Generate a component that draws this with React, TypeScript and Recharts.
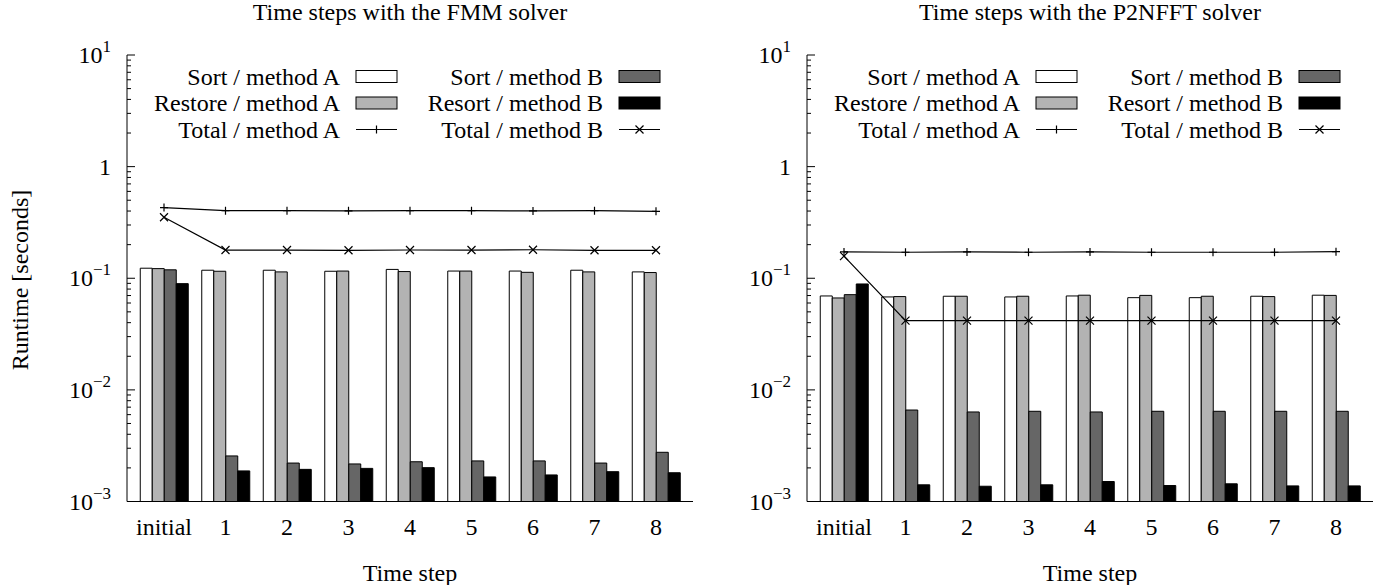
import React from 'react'
import { ComposedChart, Bar, Line, XAxis, YAxis } from 'recharts'

const steps = ['initial', '1', '2', '3', '4', '5', '6', '7', '8']

// FMM solver
const fmmSortA = [0.123, 0.118, 0.118, 0.1155, 0.12, 0.116, 0.116, 0.118, 0.114]
const fmmRestoreA = [0.122, 0.1155, 0.114, 0.116, 0.1148, 0.116, 0.113, 0.114, 0.1125]
const fmmSortB = [0.119, 0.00256, 0.00221, 0.00217, 0.00227, 0.00231, 0.00231, 0.00221, 0.00276]
const fmmResortB = [0.0895, 0.00188, 0.00194, 0.00198, 0.00201, 0.00166, 0.00173, 0.00185, 0.00181]
const fmmTotalA = [0.43, 0.403, 0.403, 0.402, 0.403, 0.403, 0.401, 0.403, 0.398]
const fmmTotalB = [0.352, 0.179, 0.179, 0.178, 0.179, 0.179, 0.18, 0.178, 0.178]

// P2NFFT solver
const nfftSortA = [0.0694, 0.068, 0.069, 0.068, 0.0694, 0.067, 0.067, 0.069, 0.0705]
const nfftRestoreA = [0.0666, 0.0685, 0.069, 0.069, 0.0705, 0.0702, 0.069, 0.0685, 0.0702]
const nfftSortB = [0.0713, 0.0066, 0.00634, 0.00643, 0.00634, 0.00643, 0.00643, 0.00643, 0.00643]
const nfftResortB = [0.0889, 0.00141, 0.00137, 0.00141, 0.00151, 0.00139, 0.00144, 0.00138, 0.00138]
const nfftTotalA = [0.172, 0.171, 0.172, 0.171, 0.172, 0.171, 0.171, 0.171, 0.173]
const nfftTotalB = [0.158, 0.0417, 0.0417, 0.0417, 0.0417, 0.0417, 0.0417, 0.0417, 0.0417]

// log axis ticks
const majorTicks = [0.001, 0.01, 0.1, 1, 10]
const majorExp = ['\u22123', '\u22122', '\u22121', '', '1']
const minorFactors = [2, 3, 4, 5, 6, 7, 8, 9]
const yTicks = majorTicks.flatMap((m, i) =>
  i < majorTicks.length - 1 ? [m, ...minorFactors.map(k => m * k)] : [m])

const FONT = '"Liberation Serif", "DejaVu Serif", serif'
const FS = 24
const PLOT_TOP = 55
const PLOT_H = 446.5
const PLOT_W = 566
const LIGHT = '#b3b3b3'
const DARK = '#666666'
const TXT = { fontFamily: FONT, fontSize: FS }

const legendItems = [
  { label: 'Sort / method A', kind: 'box', fill: '#fff', col: 0, row: 0 },
  { label: 'Restore / method A', kind: 'box', fill: LIGHT, col: 0, row: 1 },
  { label: 'Total / method A', kind: 'plus', fill: '', col: 0, row: 2 },
  { label: 'Sort / method B', kind: 'box', fill: DARK, col: 1, row: 0 },
  { label: 'Resort / method B', kind: 'box', fill: '#000', col: 1, row: 1 },
  { label: 'Total / method B', kind: 'cross', fill: '', col: 1, row: 2 },
]

const plusPath = (cx: number, cy: number, r = 4) => `M${cx - r},${cy}H${cx + r}M${cx},${cy - r}V${cy + r}`
const crossPath = (cx: number, cy: number, r = 4) =>
  `M${cx - r},${cy - r}L${cx + r},${cy + r}M${cx - r},${cy + r}L${cx + r},${cy - r}`

const PlusDot = (p: any) => <path key={p.index} d={plusPath(p.cx, p.cy)} stroke="#000" strokeWidth={1.2} fill="none" />
const CrossDot = (p: any) => <path key={p.index} d={crossPath(p.cx, p.cy)} stroke="#000" strokeWidth={1.2} fill="none" />

function LeftTick(p: any) {
  const { x, y, payload } = p
  const idx = majorTicks.indexOf(payload.value)
  const len = idx >= 0 ? 8 : 4
  return (
    <g>
      <line x1={x} x2={x + len} y1={y} y2={y} stroke="#000" />
      {idx >= 0 && (
        <text x={x - 16} y={y + 8} textAnchor="end" style={TXT} fill="#000">
          {majorExp[idx] ? (
            <>
              <tspan>10</tspan>
              <tspan dy={-11} style={{ fontSize: 17 }}>{majorExp[idx]}</tspan>
            </>
          ) : '1'}
        </text>
      )}
    </g>
  )
}

function RightTick(p: any) {
  const { x, y, payload } = p
  const len = majorTicks.indexOf(payload.value) >= 0 ? 8 : 4
  return <line x1={x} x2={x - len} y1={y} y2={y} stroke="#000" />
}

function BottomTick(p: any) {
  const { x, y, payload } = p
  return (
    <text x={x} y={y + 33} textAnchor="middle" style={TXT} fill="#000">
      {payload.value}
    </text>
  )
}

function TopTick(p: any) {
  const { x, y } = p
  return <line x1={x} x2={x} y1={y} y2={y + 8} stroke="#000" />
}

interface PanelProps {
  title: string
  left: number
  axisWidth: number
  rightMargin: number
  sortA: number[]
  restoreA: number[]
  sortB: number[]
  resortB: number[]
  totalA: number[]
  totalB: number[]
}

function Legend({ plotLeft }: { plotLeft: number }) {
  const colText = [213, 476]
  const rowY = [76.5, 103, 129.5]
  return (
    <svg width={1384} height={585} style={{ position: 'absolute', left: 0, top: 0, pointerEvents: 'none' }}>
      {legendItems.map(it => {
        const tx = plotLeft + colText[it.col]
        const cy = rowY[it.row]
        const sx = tx + 16
        return (
          <g key={it.label}>
            <text x={tx} y={cy + 8} textAnchor="end" style={TXT} fill="#000">{it.label}</text>
            {it.kind === 'box' && (
              <rect x={sx} y={cy - 6} width={41} height={12} fill={it.fill} stroke="#000" strokeWidth={1} />
            )}
            {it.kind !== 'box' && (
              <>
                <line x1={sx} x2={sx + 41} y1={cy} y2={cy} stroke="#000" strokeWidth={1.2} />
                <path d={it.kind === 'plus' ? plusPath(sx + 20.5, cy) : crossPath(sx + 20.5, cy)} stroke="#000" strokeWidth={1.2} fill="none" />
              </>
            )}
          </g>
        )
      })}
    </svg>
  )
}

function Panel(props: PanelProps) {
  const { title, left, axisWidth, rightMargin } = props
  const data = steps.map((s, i) => ({
    step: s,
    sortA: props.sortA[i],
    restoreA: props.restoreA[i],
    sortB: props.sortB[i],
    resortB: props.resortB[i],
    totalA: props.totalA[i],
    totalB: props.totalB[i],
  }))
  const width = axisWidth + PLOT_W + rightMargin
  const plotLeft = left + axisWidth
  const center = plotLeft + PLOT_W / 2
  return (
    <>
      <div style={{ position: 'absolute', left: center - 300, width: 600, top: -3, textAlign: 'center', fontFamily: FONT, fontSize: FS, lineHeight: '30px' }}>
        {title}
      </div>
      <div style={{ position: 'absolute', left: center - 300, width: 600, top: 558, textAlign: 'center', fontFamily: FONT, fontSize: FS, lineHeight: '30px' }}>
        Time step
      </div>
      <div style={{ position: 'absolute', left, top: 0 }}>
        <ComposedChart
          width={width}
          height={585}
          data={data}
          margin={{ top: PLOT_TOP, right: rightMargin, left: 0, bottom: 585 - PLOT_TOP - PLOT_H - 40 }}
          barGap={0}
        >
          <XAxis dataKey="step" type="category" height={40} padding={{ left: 6.25, right: 6.25 }}
            axisLine={{ stroke: '#000' }} tickLine={false} tickSize={0} tickMargin={0} tick={BottomTick} interval={0} />
          <XAxis xAxisId="top" dataKey="step" type="category" orientation="top" height={0} padding={{ left: 6.25, right: 6.25 }}
            axisLine={{ stroke: '#000' }} tickLine={false} tickSize={0} tickMargin={0} tick={TopTick} interval={0} />
          <YAxis scale="log" type="number" domain={[0.001, 10]} allowDataOverflow ticks={yTicks} interval={0}
            width={axisWidth} axisLine={{ stroke: '#000' }} tickLine={false} tickSize={0} tickMargin={0} tick={LeftTick} />
          <YAxis yAxisId="right" orientation="right" scale="log" type="number" domain={[0.001, 10]} allowDataOverflow ticks={yTicks} interval={0}
            width={0} axisLine={{ stroke: '#000' }} tickLine={false} tickSize={0} tickMargin={0} tick={RightTick} />
          <Bar dataKey="sortA" fill="#fff" stroke="#000" strokeWidth={1} barSize={12} isAnimationActive={false} />
          <Bar dataKey="restoreA" fill={LIGHT} stroke="#000" strokeWidth={1} barSize={12} isAnimationActive={false} />
          <Bar dataKey="sortB" fill={DARK} stroke="#000" strokeWidth={1} barSize={12} isAnimationActive={false} />
          <Bar dataKey="resortB" fill="#000" stroke="#000" strokeWidth={1} barSize={12} isAnimationActive={false} />
          <Line dataKey="totalA" stroke="#000" strokeWidth={1.2} dot={PlusDot} activeDot={false} isAnimationActive={false} />
          <Line dataKey="totalB" stroke="#000" strokeWidth={1.2} dot={CrossDot} activeDot={false} isAnimationActive={false} />
        </ComposedChart>
      </div>
      <Legend plotLeft={plotLeft} />
    </>
  )
}

export default function App() {
  return (
    <div style={{ position: 'absolute', left: 0, top: 0, width: 1384, height: 585, background: '#fff', fontFamily: FONT }}>
      <div style={{ position: 'absolute', left: 20 - 150, top: 280 - 15, width: 300, height: 30, lineHeight: '30px', textAlign: 'center', fontSize: FS, transform: 'rotate(-90deg)' }}>
        Runtime [seconds]
      </div>
      <Panel title="Time steps with the FMM solver" left={0} axisWidth={127} rightMargin={7}
        sortA={fmmSortA} restoreA={fmmRestoreA} sortB={fmmSortB} resortB={fmmResortB} totalA={fmmTotalA} totalB={fmmTotalB} />
      <Panel title="Time steps with the P2NFFT solver" left={692} axisWidth={115} rightMargin={11}
        sortA={nfftSortA} restoreA={nfftRestoreA} sortB={nfftSortB} resortB={nfftResortB} totalA={nfftTotalA} totalB={nfftTotalB} />
    </div>
  )
}
